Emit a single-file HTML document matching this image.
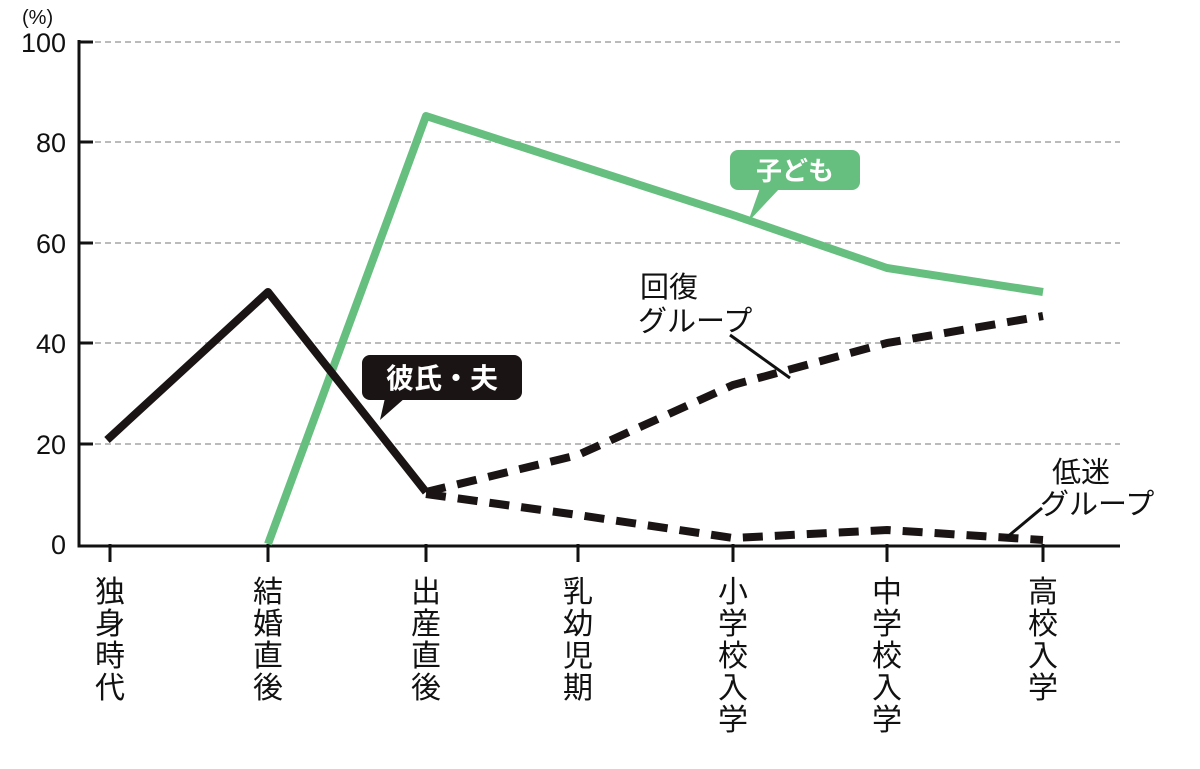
<!DOCTYPE html>
<html><head><meta charset="utf-8"><style>
body{margin:0;background:#fff;}
svg{display:block}
text{font-family:"Liberation Sans","Noto Sans CJK JP",sans-serif;}
</style></head><body>
<svg width="1200" height="769" viewBox="0 0 1200 769">
<g stroke="#bbb" stroke-width="2" stroke-dasharray="6,4">
<line x1="95" y1="42" x2="1120" y2="42"/><line x1="95" y1="142" x2="1120" y2="142"/>
<line x1="95" y1="243" x2="1120" y2="243"/><line x1="95" y1="343" x2="1120" y2="343"/>
<line x1="95" y1="444" x2="1120" y2="444"/>
</g>
<g stroke="#111" stroke-width="3" fill="none">
<path d="M79 40 V546 H1120"/>
<path d="M79 42h14M79 142h14M79 243h14M79 343h14M79 444h14"/>
<path d="M110 544v18M268 544v18M426 544v18M578 544v18M733 544v18M887 544v18M1043 544v18"/>
</g>
<g font-size="27" fill="#111" text-anchor="end">
<text x="66" y="52">100</text><text x="66" y="152">80</text><text x="66" y="253">60</text>
<text x="66" y="353">40</text><text x="66" y="454">20</text><text x="66" y="554">0</text>
</g>
<text x="22" y="24" font-size="20" fill="#111">(%)</text>
<polyline points="268,544 426,116 733,215 887,268 1043,292" fill="none" stroke="#66bf7f" stroke-width="8" stroke-linejoin="round"/>
<polyline points="107,440 268,292 426,492" fill="none" stroke="#1a1414" stroke-width="8" stroke-linejoin="round"/>
<g fill="none" stroke="#1a1414" stroke-width="8" stroke-dasharray="20,12">
<polyline points="426,492 578,455 733,385 887,343 1043,316"/>
<polyline points="426,494 578,515 733,538 887,530 1043,540"/>
</g>
<g stroke="#111" stroke-width="3"><line x1="730" y1="335" x2="790" y2="378"/><line x1="1042" y1="508" x2="1006" y2="538"/></g>
<rect x="730" y="150" width="130" height="40" rx="8" fill="#66bf7f"/>
<path d="M760 188 L748 222 L780 188Z" fill="#66bf7f"/>
<text x="795" y="180" font-size="26" fill="#fff" text-anchor="middle" font-weight="bold">子ども</text>
<rect x="362" y="355" width="160" height="45" rx="8" fill="#1a1414"/>
<path d="M385 398 L380 420 L405 398Z" fill="#1a1414"/>
<text x="442" y="388" font-size="28" fill="#fff" text-anchor="middle" font-weight="bold">彼氏・夫</text>
<g font-size="29" fill="#111">
<text x="640" y="297">回復</text><text x="638" y="331">グループ</text>
<text x="1052" y="482">低迷</text><text x="1040" y="514">グループ</text>
</g>
<g font-size="30" fill="#111" text-anchor="middle">
<text x="110" y="602">独</text><text x="110" y="634">身</text><text x="110" y="666">時</text><text x="110" y="698">代</text>
<text x="268" y="602">結</text><text x="268" y="634">婚</text><text x="268" y="666">直</text><text x="268" y="698">後</text>
<text x="426" y="602">出</text><text x="426" y="634">産</text><text x="426" y="666">直</text><text x="426" y="698">後</text>
<text x="578" y="602">乳</text><text x="578" y="634">幼</text><text x="578" y="666">児</text><text x="578" y="698">期</text>
<text x="733" y="602">小</text><text x="733" y="634">学</text><text x="733" y="666">校</text><text x="733" y="698">入</text><text x="733" y="730">学</text>
<text x="887" y="602">中</text><text x="887" y="634">学</text><text x="887" y="666">校</text><text x="887" y="698">入</text><text x="887" y="730">学</text>
<text x="1043" y="602">高</text><text x="1043" y="634">校</text><text x="1043" y="666">入</text><text x="1043" y="698">学</text>
</g>
</svg>
</body></html>
